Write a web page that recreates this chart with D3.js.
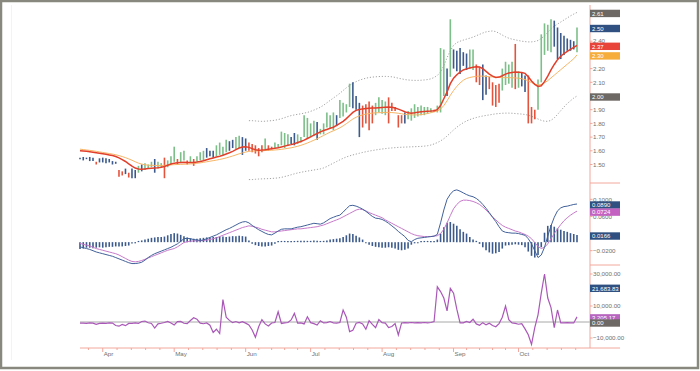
<!DOCTYPE html>
<html>
<head>
<meta charset="utf-8" />
<title>Price, MACD and oscillator</title>
<script src="https://d3js.org/d3.v7.min.js"></script>
<style>
  body { margin: 0; background: #fff; }
  svg text { font-family: "Liberation Sans", Arial, sans-serif; }
</style>
</head>
<body>
<svg id="viz" width="700" height="371"></svg>

<script>

// ---- data, one entry per trading day ----
var hi = [
  1.550,1.555,1.550,1.555,1.550,1.520,1.545,1.550,1.545,1.540,
  1.525,1.520,1.460,1.450,1.470,1.440,1.470,1.460,1.490,1.500,
  1.510,1.500,1.520,1.540,1.520,1.510,1.550,1.530,1.560,1.630,
  1.540,1.590,1.600,1.530,1.560,1.540,1.560,1.590,1.600,1.620,
  1.600,1.600,1.640,1.660,1.630,1.680,1.670,1.680,1.700,1.710,
  1.700,1.690,1.660,1.650,1.640,1.620,1.640,1.690,1.640,1.630,
  1.660,1.650,1.740,1.730,1.720,1.700,1.730,1.720,1.700,1.860,
  1.840,1.800,1.820,1.810,1.760,1.800,1.880,1.860,1.880,1.860,
  1.970,1.950,1.940,2.090,2.100,2.000,1.950,1.930,1.940,1.960,
  1.930,1.950,1.990,1.970,1.960,1.990,1.950,1.920,1.860,1.860,
  1.880,1.890,1.910,1.940,1.920,1.930,1.920,1.920,1.910,1.900,
  1.930,2.350,2.340,2.200,2.560,2.340,2.330,2.350,2.320,2.310,
  2.340,2.340,2.230,2.210,2.230,2.150,2.140,2.100,2.080,2.090,
  2.200,2.250,2.230,2.250,2.380,2.180,2.170,2.150,2.150,1.920,
  1.900,2.120,2.450,2.530,2.520,2.560,2.550,2.500,2.460,2.440,
  2.420,2.410,2.400,2.500
];
var lo = [
  1.545,1.530,1.540,1.525,1.525,1.500,1.515,1.515,1.510,1.515,
  1.500,1.505,1.410,1.420,1.430,1.405,1.400,1.400,1.440,1.450,
  1.460,1.470,1.480,1.440,1.470,1.480,1.400,1.480,1.500,1.520,
  1.500,1.510,1.530,1.500,1.510,1.490,1.520,1.530,1.530,1.550,
  1.560,1.550,1.560,1.570,1.570,1.590,1.600,1.620,1.610,1.620,
  1.570,1.600,1.600,1.590,1.580,1.560,1.590,1.600,1.600,1.610,
  1.620,1.620,1.640,1.620,1.640,1.650,1.640,1.650,1.660,1.700,
  1.690,1.700,1.710,1.680,1.720,1.720,1.770,1.760,1.750,1.780,
  1.840,1.850,1.880,1.920,1.910,1.900,1.700,1.770,1.800,1.750,
  1.800,1.860,1.880,1.870,1.860,1.800,1.890,1.890,1.770,1.800,
  1.800,1.830,1.820,1.840,1.850,1.860,1.860,1.870,1.880,1.885,
  1.880,1.880,2.000,2.000,2.140,2.200,2.180,2.160,2.220,2.190,
  2.200,2.190,2.100,2.080,1.970,2.010,2.050,1.930,1.920,1.950,
  2.040,2.080,2.090,2.060,2.050,2.060,2.070,2.030,1.800,1.800,
  1.830,1.900,2.100,2.300,2.330,2.320,2.360,2.270,2.270,2.300,
  2.330,2.330,2.340,2.320
];
// g = up, b = down, r = down on the average
var barType =
  "bbbbbrbbbb" + "bbrrbrbbgb" + "gggbggrggg" + "rggrgrgggb" + "bbggggbbgg" +
  "bbrrrrrgrr" + "gggggbbggg" + "gggbgggggb" + "ggggbbbrrr" + "rggggrrrrr" +
  "bggggggggr" + "gggbgbbbbb" + "ggrrbbrrrr" + "ggggrgbbrr" + "rgggggbbbb" + "bbbg";

var ma1 = [
  1.600,1.598,1.596,1.593,1.590,1.586,1.582,1.578,1.574,1.570,
  1.565,1.558,1.548,1.536,1.522,1.505,1.488,1.474,1.468,1.466,
  1.468,1.470,1.472,1.474,1.476,1.480,1.486,1.495,1.503,1.510,
  1.512,1.514,1.516,1.515,1.514,1.515,1.518,1.522,1.528,1.535,
  1.542,1.548,1.554,1.560,1.568,1.577,1.586,1.596,1.608,1.620,
  1.628,1.630,1.625,1.616,1.608,1.604,1.605,1.608,1.612,1.615,
  1.618,1.622,1.628,1.634,1.640,1.645,1.652,1.660,1.668,1.678,
  1.690,1.702,1.714,1.726,1.738,1.748,1.756,1.764,1.772,1.785,
  1.800,1.815,1.835,1.858,1.880,1.895,1.902,1.906,1.908,1.910,
  1.912,1.912,1.914,1.916,1.918,1.920,1.918,1.912,1.904,1.895,
  1.885,1.877,1.875,1.878,1.882,1.885,1.887,1.889,1.890,1.893,
  1.900,1.930,1.980,2.030,2.090,2.130,2.155,2.175,2.190,2.198,
  2.205,2.210,2.214,2.212,2.200,2.180,2.160,2.145,2.135,2.138,
  2.148,2.160,2.168,2.172,2.175,2.174,2.172,2.165,2.140,2.110,
  2.085,2.070,2.075,2.105,2.145,2.190,2.230,2.265,2.290,2.310,
  2.325,2.340,2.355,2.370
];
var ma2 = [
  1.612,1.609,1.606,1.603,1.600,1.596,1.592,1.588,1.584,1.580,
  1.576,1.571,1.565,1.558,1.550,1.541,1.531,1.520,1.510,1.503,
  1.498,1.495,1.494,1.493,1.493,1.493,1.494,1.495,1.497,1.499,
  1.500,1.501,1.502,1.503,1.504,1.506,1.509,1.512,1.516,1.520,
  1.524,1.528,1.532,1.537,1.542,1.548,1.555,1.562,1.570,1.578,
  1.585,1.591,1.596,1.598,1.599,1.600,1.601,1.602,1.603,1.604,
  1.606,1.608,1.611,1.614,1.618,1.622,1.627,1.633,1.640,1.648,
  1.657,1.667,1.677,1.688,1.700,1.712,1.724,1.736,1.746,1.756,
  1.768,1.782,1.798,1.815,1.832,1.845,1.855,1.862,1.868,1.872,
  1.875,1.877,1.878,1.879,1.880,1.880,1.879,1.877,1.874,1.870,
  1.866,1.864,1.862,1.862,1.862,1.864,1.868,1.872,1.878,1.884,
  1.890,1.905,1.930,1.965,2.005,2.040,2.070,2.095,2.115,2.128,
  2.135,2.140,2.143,2.145,2.145,2.143,2.141,2.139,2.137,2.135,
  2.134,2.134,2.134,2.133,2.132,2.130,2.126,2.120,2.110,2.098,
  2.086,2.080,2.084,2.096,2.112,2.132,2.152,2.172,2.192,2.212,
  2.232,2.252,2.272,2.300
];

// bollinger bands start later than the averages
var bandStart = 52;
var bbUpper = [
  1.820,1.820,1.818,1.816,1.815,1.816,1.818,1.820,
  1.823,1.828,1.834,1.842,1.850,1.857,1.862,1.866,1.870,1.875,
  1.880,1.888,1.897,1.907,1.918,1.933,1.950,1.968,1.985,2.002,
  2.020,2.040,2.060,2.078,2.093,2.105,2.115,2.123,2.130,2.135,
  2.138,2.140,2.142,2.143,2.143,2.142,2.140,2.136,2.130,2.125,
  2.120,2.117,2.115,2.114,2.114,2.115,2.117,2.120,2.125,2.135,
  2.150,2.175,2.220,2.280,2.330,2.370,2.390,2.400,2.408,2.415,
  2.422,2.430,2.440,2.450,2.460,2.468,2.472,2.475,2.470,2.458,
  2.445,2.432,2.422,2.415,2.410,2.405,2.400,2.397,2.395,2.395,
  2.398,2.405,2.420,2.440,2.465,2.490,2.510,2.525,2.540,2.555,
  2.570,2.585,2.598,2.610
];
var bbLower = [
  1.390,1.390,1.392,1.394,1.395,1.396,1.397,1.398,
  1.400,1.402,1.406,1.412,1.418,1.425,1.432,1.438,1.443,1.448,
  1.452,1.456,1.460,1.464,1.468,1.475,1.485,1.498,1.510,1.522,
  1.534,1.545,1.555,1.563,1.570,1.576,1.582,1.588,1.593,1.598,
  1.602,1.606,1.610,1.613,1.616,1.619,1.621,1.623,1.625,1.626,
  1.627,1.628,1.629,1.630,1.631,1.632,1.634,1.637,1.642,1.650,
  1.660,1.672,1.688,1.708,1.730,1.752,1.772,1.790,1.805,1.818,
  1.828,1.836,1.843,1.849,1.854,1.858,1.862,1.866,1.870,1.872,
  1.874,1.875,1.875,1.874,1.872,1.870,1.868,1.865,1.860,1.852,
  1.842,1.832,1.822,1.816,1.815,1.822,1.840,1.865,1.893,1.920,
  1.945,1.965,1.985,2.000
];
var lastClose = 2.50;

var macd = [
  -0.011,-0.013,-0.015,-0.017,-0.020,-0.023,-0.025,-0.027,-0.029,-0.031,
  -0.033,-0.036,-0.039,-0.042,-0.045,-0.048,-0.050,-0.050,-0.049,-0.047,
  -0.042,-0.036,-0.031,-0.027,-0.024,-0.021,-0.018,-0.015,-0.012,-0.008,
  -0.004,0.002,0.008,0.009,0.008,0.006,0.005,0.004,0.005,0.008,
  0.011,0.014,0.017,0.021,0.025,0.029,0.032,0.036,0.040,0.044,
  0.047,0.048,0.045,0.039,0.034,0.029,0.025,0.021,0.018,0.017,
  0.021,0.026,0.030,0.031,0.031,0.031,0.033,0.035,0.036,0.038,
  0.040,0.042,0.044,0.043,0.042,0.045,0.050,0.055,0.058,0.061,
  0.063,0.070,0.078,0.085,0.086,0.084,0.081,0.077,0.072,0.066,
  0.060,0.056,0.055,0.053,0.049,0.044,0.038,0.032,0.025,0.019,
  0.013,0.004,0.001,0.006,0.009,0.010,0.011,0.012,0.013,0.014,
  0.018,0.045,0.075,0.100,0.112,0.120,0.122,0.119,0.115,0.111,
  0.108,0.106,0.102,0.096,0.088,0.079,0.069,0.058,0.048,0.036,
  0.026,0.023,0.022,0.021,0.021,0.020,0.018,0.016,0.008,-0.004,
  -0.020,-0.036,-0.030,-0.012,0.014,0.038,0.058,0.073,0.080,0.083,
  0.084,0.086,0.088,0.0890
];
var signal = [
  -0.003,-0.005,-0.007,-0.009,-0.012,-0.015,-0.017,-0.019,-0.021,-0.023,
  -0.025,-0.027,-0.030,-0.034,-0.038,-0.042,-0.045,-0.046,-0.045,-0.043,
  -0.040,-0.037,-0.034,-0.031,-0.028,-0.025,-0.022,-0.019,-0.017,-0.015,
  -0.011,-0.006,-0.001,0.001,0.002,0.003,0.003,0.003,0.004,0.005,
  0.006,0.008,0.010,0.013,0.016,0.019,0.022,0.025,0.028,0.031,
  0.034,0.036,0.038,0.037,0.035,0.033,0.030,0.028,0.026,0.024,
  0.024,0.025,0.026,0.027,0.028,0.029,0.030,0.031,0.031,0.032,
  0.033,0.034,0.035,0.036,0.038,0.040,0.043,0.046,0.049,0.052,
  0.055,0.059,0.063,0.067,0.071,0.075,0.077,0.076,0.073,0.069,
  0.066,0.063,0.060,0.057,0.052,0.048,0.044,0.040,0.036,0.032,
  0.028,0.024,0.020,0.017,0.015,0.014,0.013,0.013,0.013,0.014,
  0.015,0.020,0.030,0.045,0.062,0.078,0.088,0.095,0.098,0.098,
  0.097,0.095,0.092,0.088,0.082,0.075,0.067,0.059,0.052,0.045,
  0.039,0.035,0.032,0.029,0.026,0.024,0.021,0.018,0.014,0.008,
  -0.001,-0.010,-0.015,-0.012,-0.004,0.008,0.020,0.031,0.041,0.050,
  0.057,0.063,0.068,0.0724
];
var hist = [
  -0.016,-0.015,-0.013,-0.013,-0.014,-0.013,-0.012,-0.013,-0.012,-0.011,
  -0.011,-0.010,-0.010,-0.010,-0.009,-0.008,-0.003,-0.002,0.002,0.004,
  0.006,0.008,0.010,0.011,0.012,0.012,0.013,0.016,0.019,0.021,
  0.020,0.017,0.014,0.011,0.009,0.008,0.008,0.009,0.010,0.011,
  0.011,0.012,0.012,0.013,0.013,0.012,0.013,0.014,0.014,0.015,
  0.014,0.013,0.004,-0.004,-0.007,-0.009,-0.010,-0.010,-0.009,-0.008,
  -0.004,0.001,0.002,0.002,0.002,0.002,0.002,0.003,0.003,0.003,
  0.003,0.003,0.004,0.003,0.002,0.003,0.004,0.006,0.007,0.008,
  0.009,0.012,0.016,0.020,0.019,0.015,0.011,0.006,-0.002,-0.006,
  -0.009,-0.011,-0.012,-0.013,-0.013,-0.012,-0.013,-0.015,-0.018,-0.019,
  -0.018,-0.015,-0.006,-0.002,-0.001,0.001,0.001,0.001,0.002,0.002,
  0.006,0.020,0.035,0.045,0.047,0.043,0.038,0.030,0.024,0.020,
  0.012,0.006,0.003,-0.004,-0.012,-0.019,-0.024,-0.027,-0.026,-0.023,
  -0.015,-0.008,-0.007,-0.006,-0.005,-0.006,-0.007,-0.012,-0.022,-0.032,
  -0.036,-0.030,-0.012,0.022,0.038,0.040,0.036,0.032,0.029,0.026,
  0.024,0.021,0.019,0.0166
];

var osc = [
  -700,-700,-800,-600,-700,-1500,-900,-700,-800,-600,
  -700,-2200,-2600,-1500,-2300,-900,-800,-600,-900,300,
  600,-500,-900,-3800,-1200,-800,-300,400,-600,-1900,
  200,400,-800,-1000,900,2700,1800,-700,-1100,-600,
  -2000,-6500,-4500,-7200,14000,3000,1000,-400,300,-500,
  200,-700,-1800,-5000,-9500,-3000,1500,-1200,-2500,-600,
  -300,6400,-900,-500,-300,1300,5400,-700,-600,-1200,
  3300,-400,-1000,-1900,800,-600,-400,300,-500,-700,
  -300,7500,3000,-6000,-5200,-800,-300,-1200,-4500,800,
  -1500,-3500,1500,-400,-700,-3500,-2800,-1000,-8100,-600,
  -400,-500,-300,-600,-400,-500,-300,-600,-300,300,
  22000,19000,15000,7000,21000,18000,8000,-500,-500,400,
  -300,1700,-1200,-2000,-400,-1800,-800,-2200,-3000,-1000,
  3000,10000,1500,-600,-900,-1400,-1000,-4300,-8000,-14000,
  -3500,4500,18000,30000,15000,9000,-3500,7500,-500,-600,
  -400,-500,-600,3205.17
];
var oscRef = 21683.83;

// axis labels
var months = [
  {label: "Apr", i: 7}, {label: "May", i: 29}, {label: "Jun", i: 51},
  {label: "Jul", i: 71}, {label: "Aug", i: 93}, {label: "Sep", i: 115},
  {label: "Oct", i: 135}
];
var priceTicks = [1.5, 1.6, 1.7, 1.8, 1.9, 2.0, 2.1, 2.2, 2.3, 2.4, 2.5, 2.6];
var macdTicks = [-0.02, 0.02, 0.06, 0.10];
var oscTicks = [-10000, 0, 10000, 20000, 30000];


var n = hi.length;
var axisColor = "#f2a79b",
    textColor = "#707070",
    green = "#7cbf88",
    blue = "#3c5b8c",
    red = "#e6533c";

var svg = d3.select("#viz");

// frame
svg.append("rect")
  .attr("x", 1).attr("y", 1)
  .attr("width", 697).attr("height", 367)
  .attr("fill", "#fff")
  .attr("stroke", "#88887e")
  .attr("stroke-width", 2.5);
svg.append("line")
  .attr("x1", 11.5).attr("x2", 11.5).attr("y1", 5).attr("y2", 360)
  .attr("stroke", "#f3f3f3");

var x = d3.scaleLinear().domain([0, n - 1]).range([80, 577]);
var yP = d3.scaleLinear().domain([1.5, 2.5]).range([164.5, 27.5]);
var yM = d3.scaleLinear().domain([-0.02, 0.10]).range([250.7, 199.3]);
var yO = d3.scaleLinear().domain([-10000, 30000]).range([338, 274]);

var axisX = 590;

// ---------- price panel ----------
var bandIdx = d3.range(bandStart, n);
var bandLine = d3.line()
  .x(function(d) { return x(d.i); })
  .y(function(d) { return yP(d.v); });

svg.append("path")
  .datum(bbUpper.map(function(v, k) { return {i: bandIdx[k], v: v}; }))
  .attr("d", bandLine)
  .attr("fill", "none").attr("stroke", "#8c8c8c")
  .attr("stroke-width", 0.8).attr("stroke-dasharray", "1.2,1.8");
svg.append("path")
  .datum(bbLower.map(function(v, k) { return {i: bandIdx[k], v: v}; }))
  .attr("d", bandLine)
  .attr("fill", "none").attr("stroke", "#8c8c8c")
  .attr("stroke-width", 0.8).attr("stroke-dasharray", "1.2,1.8");

var barColor = {g: green, b: blue, r: red};
svg.append("g").selectAll("line")
  .data(hi)
  .enter().append("line")
  .attr("x1", function(d, i) { return x(i); })
  .attr("x2", function(d, i) { return x(i); })
  .attr("y1", function(d) { return yP(d); })
  .attr("y2", function(d, i) { return Math.max(yP(lo[i]), yP(d) + 1.5); })
  .attr("stroke", function(d, i) { return barColor[barType[i]]; })
  .attr("stroke-width", 1.6);

var priceLine = d3.line()
  .x(function(d, i) { return x(i); })
  .y(function(d) { return yP(d); });

svg.append("path").datum(ma2)
  .attr("d", priceLine)
  .attr("fill", "none").attr("stroke", "#f7b565").attr("stroke-width", 1);
svg.append("path").datum(ma1)
  .attr("d", priceLine)
  .attr("fill", "none").attr("stroke", "#e23f2a").attr("stroke-width", 1.5);

// ---------- MACD panel ----------
svg.append("g").selectAll("line")
  .data(hist)
  .enter().append("line")
  .attr("x1", function(d, i) { return x(i); })
  .attr("x2", function(d, i) { return x(i); })
  .attr("y1", yM(0))
  .attr("y2", function(d) {
    var y = yM(d);
    return Math.abs(y - yM(0)) < 1.2 ? yM(0) + (d < 0 ? 1.2 : -1.2) : y;
  })
  .attr("stroke", blue)
  .attr("stroke-width", 1.6);

var macdLine = d3.line()
  .x(function(d, i) { return x(i); })
  .y(function(d) { return yM(d); });

svg.append("path").datum(signal)
  .attr("d", macdLine)
  .attr("fill", "none").attr("stroke", "#c77acb").attr("stroke-width", 1);
svg.append("path").datum(macd)
  .attr("d", macdLine)
  .attr("fill", "none").attr("stroke", "#41619a").attr("stroke-width", 1);

// ---------- oscillator panel ----------
svg.append("line")
  .attr("x1", 80).attr("x2", axisX)
  .attr("y1", yO(0)).attr("y2", yO(0))
  .attr("stroke", "#a8a8a8").attr("stroke-width", 1);

svg.append("path").datum(osc)
  .attr("d", d3.line()
    .x(function(d, i) { return x(i); })
    .y(function(d) { return yO(d); }))
  .attr("fill", "none").attr("stroke", "#aa58b8").attr("stroke-width", 1.2);

// ---------- right axis ----------
svg.append("line")
  .attr("x1", axisX).attr("x2", axisX).attr("y1", 5).attr("y2", 348)
  .attr("stroke", axisColor).attr("stroke-width", 1);
[183, 265].forEach(function(y) {
  svg.append("line")
    .attr("x1", axisX).attr("x2", 620).attr("y1", y).attr("y2", y)
    .attr("stroke", axisColor).attr("stroke-width", 1);
});

// value boxes: [value, scale, format, colour]
var f2 = d3.format(".2f"), f4 = d3.format(".4f"), fO = d3.format(",.2f");
var boxes = [
  [bbUpper[bbUpper.length - 1], yP, f2, "#6d6864"],
  [lastClose, yP, f2, "#2f5080"],
  [ma1[n - 1], yP, f2, "#e8443a"],
  [ma2[n - 1], yP, f2, "#f6ad3c"],
  [bbLower[bbLower.length - 1], yP, f2, "#6d6864"],
  [macd[n - 1], yM, f4, "#2f5080"],
  [signal[n - 1], yM, f4, "#c462c2"],
  [hist[n - 1], yM, f4, "#2f5080"],
  [oscRef, yO, fO, "#2f5080"],
  [osc[n - 1], yO, fO, "#b865c0"],
  [0, yO, fO, "#6d6864"]
];
var boxY = boxes.map(function(b) { return b[1](b[0]) + 1; });

// tick labels that sit under a value box are hidden, as in the original
function yTicks(values, scale, fmt) {
  var g = svg.append("g");
  values.forEach(function(v) {
    var y = scale(v);
    g.append("line")
      .attr("x1", axisX).attr("x2", axisX + 2.5)
      .attr("y1", y).attr("y2", y)
      .attr("stroke", axisColor);
    var covered = boxY.some(function(by) { return Math.abs(by - y) < 4; });
    if (covered) return;
    g.append("text")
      .attr("x", axisX + 3).attr("y", y + 2.2)
      .attr("font-size", 6.2).attr("fill", textColor)
      .text(fmt(v));
  });
}
yTicks(priceTicks, yP, f2);
yTicks(macdTicks, yM, f4);
yTicks(oscTicks, yO, fO);

boxes.forEach(function(b, k) {
  var y = boxY[k];
  svg.append("rect")
    .attr("x", axisX).attr("y", y - 3.7)
    .attr("width", 30).attr("height", 7.4)
    .attr("fill", b[3]);
  svg.append("text")
    .attr("x", axisX + 2).attr("y", y + 2.2)
    .attr("font-size", 6).attr("fill", "#fff")
    .text(b[2](b[0]));
});

// ---------- bottom axis ----------
var axisY = 348;
svg.append("line")
  .attr("x1", 80).attr("x2", 620).attr("y1", axisY).attr("y2", axisY)
  .attr("stroke", axisColor).attr("stroke-width", 1);

// five small ticks per month
var minor = [];
months.forEach(function(m, k) {
  var next = k < months.length - 1 ? months[k + 1].i : m.i + 22;
  for (var s = 1; s < 5; s++) minor.push(m.i + (next - m.i) * s / 5);
});
minor.push(months[0].i - (months[1].i - months[0].i) / 5);
minor.filter(function(i) { return i >= 0 && i <= n - 1; }).forEach(function(i) {
  svg.append("line")
    .attr("x1", x(i)).attr("x2", x(i)).attr("y1", axisY).attr("y2", axisY + 2)
    .attr("stroke", axisColor);
});
months.forEach(function(m) {
  svg.append("line")
    .attr("x1", x(m.i)).attr("x2", x(m.i)).attr("y1", axisY).attr("y2", axisY + 4)
    .attr("stroke", axisColor);
  svg.append("text")
    .attr("x", x(m.i) + 1).attr("y", axisY + 7.5)
    .attr("font-size", 6.2).attr("fill", textColor)
    .text(m.label);
});

</script>
</body>
</html>
